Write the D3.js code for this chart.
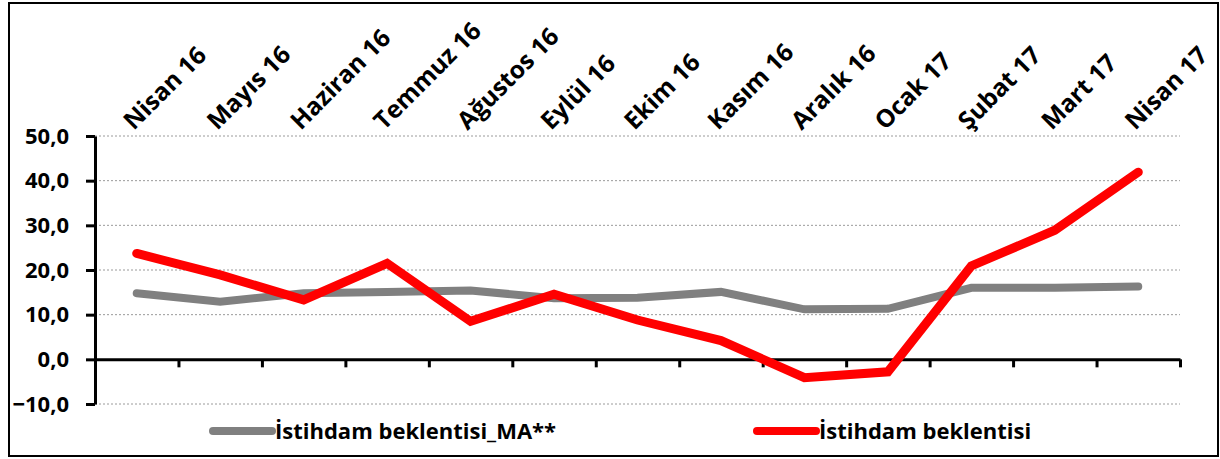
<!DOCTYPE html>
<html>
<head>
<meta charset="utf-8">
<script src="https://cdn.jsdelivr.net/npm/d3@7"></script>
<style>
  body { margin: 0; background: #fff; }
  svg { display: block; font-family: "Open Sans", Lato, sans-serif; font-weight: bold; }
</style>
</head>
<body>
<div id="chart"></div>
<script>
// data
const months = ["Nisan 16", "Mayıs 16", "Haziran 16", "Temmuz 16", "Ağustos 16", "Eylül 16",
  "Ekim 16", "Kasım 16", "Aralık 16", "Ocak 17", "Şubat 17", "Mart 17", "Nisan 17"];
const beklentiMA = [14.8, 12.9, 14.8, 15.1, 15.4, 13.7, 13.8, 15.1, 11.2, 11.3, 16.0, 16.0, 16.3];
const beklenti = [23.7, 18.9, 13.3, 21.5, 8.5, 14.6, 8.8, 4.2, -4.1, -2.8, 20.9, 28.9, 41.9];
const yTicks = [-10, 0, 10, 20, 30, 40, 50];
const legendLabels = ["İstihdam beklentisi_MA**", "İstihdam beklentisi"];

const width = 1220, height = 459;
const margin = { top: 136, right: 40, bottom: 55, left: 95 };

const svg = d3.select("#chart").append("svg")
  .attr("width", width).attr("height", height);

// frame
svg.append("rect")
  .attr("x", 9).attr("y", 3).attr("width", 1209).attr("height", 453)
  .attr("fill", "#fff").attr("stroke", "#000").attr("stroke-width", 2);

// scales
const x = d3.scaleBand().domain(months).range([margin.left, width - margin.right]);
const xEdge = d3.scaleLinear().domain([0, months.length]).range(x.range());
const y = d3.scaleLinear().domain([-10, 50]).range([height - margin.bottom, margin.top]);

const tr = d3.formatLocale({ decimal: ",", thousands: ".", grouping: [3], currency: ["", ""] });
const fmt = tr.format(".1f");

// grid
svg.append("g")
  .selectAll("line")
  .data(yTicks.filter((d) => d !== 0))
  .join("line")
  .attr("x1", margin.left).attr("x2", width - margin.right)
  .attr("y1", (d) => y(d)).attr("y2", (d) => y(d))
  .attr("stroke", "#9a9a9a").attr("stroke-width", 1)
  .attr("stroke-dasharray", "2,2");

// y axis
const yAxis = svg.append("g")
  .attr("transform", `translate(${margin.left},0)`)
  .call(d3.axisLeft(y).tickValues(yTicks).tickFormat(fmt).tickSize(9).tickSizeOuter(0).tickPadding(17));
yAxis.selectAll("path, line").attr("stroke", "#000").attr("stroke-width", 3);
yAxis.selectAll("text").attr("font-size", 22).attr("font-family", "'Open Sans', sans-serif").attr("fill", "#000");

// x axis at zero
const xAxis = svg.append("g")
  .attr("transform", `translate(0,${y(0)})`)
  .call(d3.axisBottom(xEdge).tickValues(d3.range(months.length + 1)).tickFormat("").tickSize(8).tickSizeOuter(0));
xAxis.selectAll("path, line").attr("stroke", "#000").attr("stroke-width", 3);

// category labels on top
svg.append("g")
  .selectAll("text")
  .data(months)
  .join("text")
  .attr("transform", (d) => `translate(${x(d) + x.bandwidth() / 2 - 3},131) rotate(-45)`)
  .attr("font-size", 24.5)
  .attr("fill", "#000")
  .text((d) => d);

// lines
const line = (vals) => d3.line()
  .x((d, i) => x(months[i]) + x.bandwidth() / 2)
  .y((d) => y(d))(vals);

svg.append("path")
  .attr("d", line(beklentiMA))
  .attr("fill", "none").attr("stroke", "#808080").attr("stroke-width", 8)
  .attr("stroke-linecap", "round").attr("stroke-linejoin", "miter");

svg.append("path")
  .attr("d", line(beklenti))
  .attr("fill", "none").attr("stroke", "#ff0000").attr("stroke-width", 9)
  .attr("stroke-linecap", "round").attr("stroke-linejoin", "miter");

// legend
const legendColors = ["#808080", "#ff0000"];
const legendX = [213, 757];
const leg = svg.append("g")
  .selectAll("g")
  .data(legendLabels)
  .join("g")
  .attr("transform", (d, i) => `translate(${legendX[i]},431)`);
leg.append("line")
  .attr("x1", 0).attr("x2", 59)
  .attr("stroke", (d, i) => legendColors[i]).attr("stroke-width", 8)
  .attr("stroke-linecap", "round");
leg.append("text")
  .attr("x", 62).attr("dy", "0.35em")
  .attr("font-size", 22).attr("fill", "#000")
  .text((d) => d);
</script>
</body>
</html>
